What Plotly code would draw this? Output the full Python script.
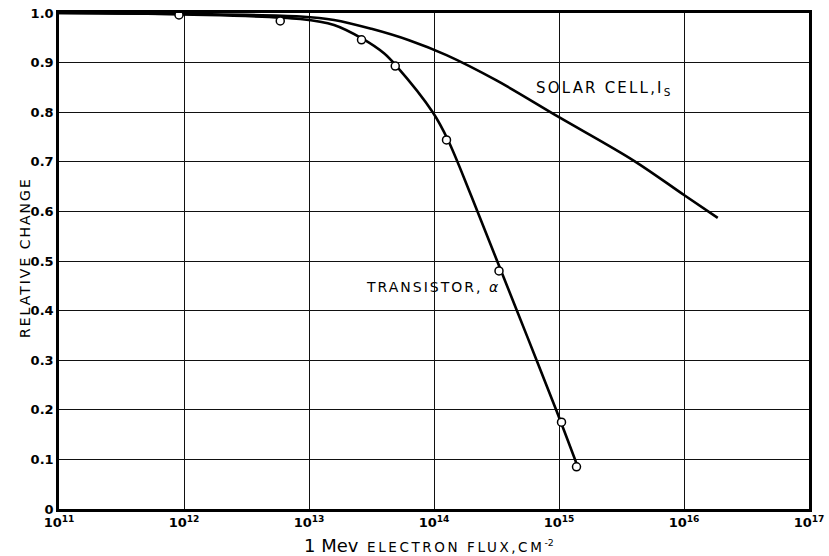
import plotly.graph_objects as go

# Curves (log10 flux, relative change)
solar_logx = [11.0, 12.0, 12.93, 13.20, 13.50, 13.80, 14.10, 14.50, 15.00, 15.60, 16.00, 16.27]
solar_y = [1.0, 0.998, 0.993, 0.986, 0.968, 0.945, 0.915, 0.864, 0.790, 0.702, 0.633, 0.587]

trans_logx = [11.0, 12.0, 12.93, 13.20, 13.43, 13.60, 13.70, 13.99, 14.11, 14.30,
              14.51, 14.75, 14.98, 15.15]
trans_y = [1.0, 0.997, 0.988, 0.976, 0.948, 0.919, 0.893, 0.800, 0.745, 0.630,
           0.497, 0.345, 0.198, 0.085]

# Measured points
pts_logx = [11.96, 12.77, 13.42, 13.69, 14.10, 14.52, 15.02, 15.14]
pts_y = [0.996, 0.984, 0.946, 0.893, 0.744, 0.48, 0.175, 0.085]

xtick_exp = [11, 12, 13, 14, 15, 16, 17]
ytick_vals = [0, 0.1, 0.2, 0.3, 0.4, 0.5, 0.6, 0.7, 0.8, 0.9, 1.0]
ytick_text = ["0", "0.1", "0.2", "0.3", "0.4", "0.5", "0.6", "0.7", "0.8", "0.9", "1.0"]

FONT = "DejaVu Sans"


def spaced(t, px):
    return f"<span style='letter-spacing:{px}px'>{t}</span>"


fig = go.Figure()
fig.add_trace(go.Scatter(x=[10 ** v for v in solar_logx], y=solar_y, mode="lines",
                         line=dict(color="black", width=2.6, shape="spline", smoothing=1.0),
                         hoverinfo="skip", showlegend=False))
fig.add_trace(go.Scatter(x=[10 ** v for v in trans_logx], y=trans_y, mode="lines",
                         line=dict(color="black", width=2.6, shape="spline", smoothing=1.0),
                         hoverinfo="skip", showlegend=False))
fig.add_trace(go.Scatter(x=[10 ** v for v in pts_logx], y=pts_y, mode="markers",
                         marker=dict(symbol="circle", size=8, color="white",
                                     line=dict(color="black", width=1.5)),
                         showlegend=False))

fig.update_xaxes(type="log", range=[11, 17], automargin=False,
                 tickvals=[10 ** e for e in xtick_exp],
                 ticktext=[f"<b>10<sup>{e}</sup></b>" for e in xtick_exp],
                 showgrid=True, gridcolor="#111", gridwidth=1.2,
                 showline=True, linecolor="black", linewidth=2.5, mirror=True,
                 ticks="", zeroline=False,
                 tickfont=dict(family=FONT, size=13, color="black"))
fig.update_yaxes(range=[0, 1], automargin=False, tickvals=ytick_vals,
                 ticktext=[f"<b>{t}</b>" for t in ytick_text],
                 showgrid=True, gridcolor="#111", gridwidth=1.2,
                 showline=True, linecolor="black", linewidth=2.5, mirror=True,
                 ticks="", zeroline=False,
                 tickfont=dict(family=FONT, size=13, color="black"))

fig.add_annotation(x=11 + (603 - 59) / 125, y=(509 - 88) / 496, xref="x", yref="y",
                   showarrow=False,
                   text=spaced("SOLAR CELL,I", 2.2) + "<sub>S</sub>",
                   font=dict(family=FONT, size=15, color="black"))
fig.add_annotation(x=11 + (501 - 59) / 125, y=(509 - 287) / 496, xref="x", yref="y",
                   showarrow=False, xanchor="right",
                   text=spaced("TRANSISTOR, ", 2) + "<i>α</i>",
                   font=dict(family=FONT, size=14, color="black"))

fig.add_annotation(x=(429 - 59) / (809 - 59), y=(509 - 545) / (509 - 13), xref="paper",
                   yref="paper", yanchor="middle", showarrow=False,
                   text="<span style='font-size:18px'>1 Mev</span>  "
                        + spaced("ELECTRON FLUX,CM", 2.6) + "<sup>-2</sup>",
                   font=dict(family=FONT, size=13.5, color="black"))
fig.add_annotation(x=(15 - 59) / (809 - 59), y=(509 - 258) / (509 - 13), xref="paper",
                   yref="paper", showarrow=False, textangle=-90,
                   text=spaced("RELATIVE CHANGE", 2),
                   font=dict(family=FONT, size=14, color="black"))

fig.update_layout(width=829, height=556,
                  margin=dict(l=59, r=20, t=13, b=47),
                  paper_bgcolor="white", plot_bgcolor="white")

fig.write_html("out.html")
